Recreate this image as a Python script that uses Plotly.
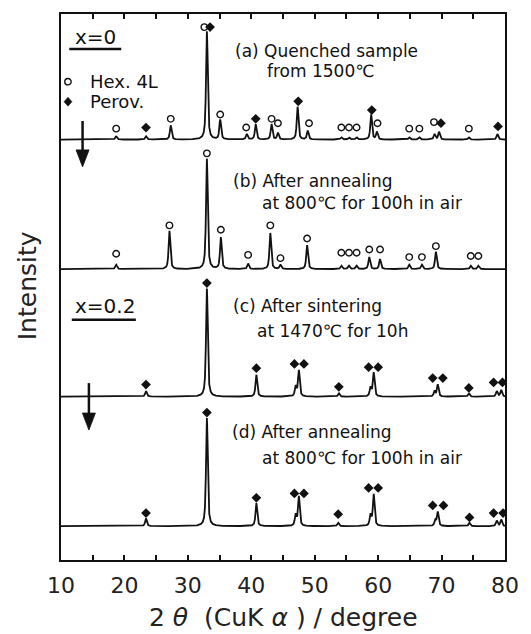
import numpy as np
import plotly.graph_objects as go

# ---- Diffraction peaks: 2theta (deg) and relative intensity ----
# (a) x=0, quenched from 1500 C
a_pos = [18.7, 23.4, 27.3, 33.0, 35.1, 39.3, 40.7, 43.2, 44.2, 47.3, 48.9,
         54.2, 55.4, 56.6, 58.9, 59.8, 64.9, 66.5, 68.9, 69.6, 74.3, 78.8]
a_int = [3, 3, 13, 99, 18, 5, 14, 14, 6, 30, 8,
         2, 2, 2, 23, 7, 2, 2, 5, 7, 2, 5]
# (b) x=0, annealed at 800 C
b_pos = [18.7, 27.1, 33.0, 35.2, 39.5, 43.0, 44.6, 48.8, 54.2, 55.4, 56.6,
         58.6, 60.3, 64.9, 66.9, 69.1, 74.6, 75.8]
b_int = [4, 35, 101, 29, 5, 33, 4, 22, 3, 3, 3,
         11, 9, 4, 4, 16, 3, 3]
# (c) x=0.2, sintered at 1470 C
c_pos = [23.4, 33.0, 40.8, 47.0, 47.5, 53.8, 58.8, 59.3, 68.9, 69.4, 74.3, 78.7, 79.4]
c_int = [5, 99, 20, 9, 24, 3, 8, 22, 5, 11, 3, 5, 6]
# (d) x=0.2, annealed at 800 C
d_pos = [23.4, 33.0, 40.8, 47.0, 47.5, 53.7, 58.8, 59.3, 69.0, 69.4, 74.4, 78.7, 79.4]
d_int = [7, 99, 21, 10, 27, 3, 10, 29, 5, 13, 3, 5, 6]

# ---- Phase index marks: 2theta and level above each baseline ----
hex_a_pos = [18.7, 27.3, 32.6, 35.1, 39.2, 43.2, 44.2, 49.1, 54.2, 55.4, 56.6,
             59.9, 64.9, 66.5, 68.8, 74.3]
hex_a_lvl = [10, 19, 103, 23, 11, 19, 15, 15, 11, 11, 11,
             15, 10, 10, 16, 10]
per_a_pos = [23.4, 33.5, 40.7, 47.4, 59.0, 69.9, 78.9]
per_a_lvl = [11, 103, 19, 35, 27, 15, 12]

hex_b_pos = [18.7, 27.1, 33.0, 35.2, 39.5, 43.0, 44.6, 48.8, 54.2, 55.4, 56.6,
             58.6, 60.3, 64.9, 66.9, 69.1, 74.6, 75.8]
hex_b_lvl = [14, 40, 106, 36, 13, 40, 10, 28, 15, 15, 15,
             18, 18, 11, 11, 21, 12, 12]

per_c_pos = [23.4, 33.0, 40.8, 46.8, 48.3, 53.8, 58.5, 60.0, 68.6, 70.2, 74.3, 78.2, 79.6]
per_c_lvl = [11, 104, 26, 30, 30, 9, 27, 27, 17, 17, 8, 13, 13]

per_d_pos = [23.4, 33.0, 40.8, 46.8, 48.3, 53.7, 58.5, 60.0, 68.6, 70.3, 74.4, 78.2, 79.7]
per_d_lvl = [12, 104, 26, 30, 30, 11, 35, 35, 19, 19, 8, 12, 12]

tick_vals = [10, 20, 30, 40, 50, 60, 70, 80]

# vertical stacking of the four patterns
OFFSETS = {"a": 385.0, "b": 266.4, "c": 149.6, "d": 31.0}
Y_TOP = 500.0

FONT = "DejaVu Sans"
BLACK = "#111111"
NB = "\u00a0"

tth = np.arange(10.0, 80.0001, 0.01)


def profile(pos, inten, fwhm=0.32, eta=0.7):
    """Pseudo-Voigt sum of the listed reflections."""
    y = np.zeros_like(tth)
    for p, h in zip(pos, inten):
        d = (tth - p) / (fwhm / 2.0)
        lor = 1.0 / (1.0 + d ** 2)
        gau = np.exp(-np.log(2.0) * d ** 2)
        y += h * (eta * lor + (1 - eta) * gau)
    return y


fig = go.Figure()

for key, pos, inten in [("a", a_pos, a_int), ("b", b_pos, b_int),
                        ("c", c_pos, c_int), ("d", d_pos, d_int)]:
    fig.add_trace(go.Scatter(
        x=tth, y=profile(pos, inten) + OFFSETS[key], mode="lines",
        line=dict(color=BLACK, width=1.8), showlegend=False, hoverinfo="skip"))

hex_marker = dict(symbol="circle-open", size=6.5, color=BLACK, line=dict(width=1.4, color=BLACK))
per_marker = dict(symbol="diamond", size=7.5, color=BLACK)

for name, pos, lvl, key, mk in [
        ("Hex. 4L", hex_a_pos, hex_a_lvl, "a", hex_marker),
        ("Perov.", per_a_pos, per_a_lvl, "a", per_marker),
        ("Hex. 4L", hex_b_pos, hex_b_lvl, "b", hex_marker),
        ("Perov.", per_c_pos, per_c_lvl, "c", per_marker),
        ("Perov.", per_d_pos, per_d_lvl, "d", per_marker)]:
    fig.add_trace(go.Scatter(
        x=pos, y=[v + OFFSETS[key] for v in lvl], mode="markers",
        marker=mk, name=name, showlegend=False, hoverinfo="skip"))

# ---- key for the phase symbols (drawn as shapes + text) ----
key_x, key_text_x = 11.1, 14.2
key_rows = [("Hex. 4L", 438.0, "circle"), ("Perov.", 419.7, "diamond")]
for label, ky, sym in key_rows:
    if sym == "circle":
        fig.add_shape(type="circle", xref="x", yref="y", xsizemode="pixel",
                      ysizemode="pixel", xanchor=key_x, yanchor=ky,
                      x0=-3.2, x1=3.2, y0=-3.2, y1=3.2,
                      line=dict(color=BLACK, width=1.4))
    else:
        fig.add_shape(type="path", xref="x", yref="y", xsizemode="pixel",
                      ysizemode="pixel", xanchor=key_x, yanchor=ky,
                      path="M0,4.5 L4,0 L0,-4.5 L-4,0 Z", fillcolor=BLACK,
                      line=dict(color=BLACK, width=0.5))
    fig.add_annotation(x=key_text_x, y=ky, xref="x", yref="y", text=label,
                       showarrow=False, xanchor="left", yanchor="middle",
                       font=dict(family=FONT, size=18, color=BLACK))

label_font = dict(family=FONT, size=17, color=BLACK)
texts = [
    ("(a) Quenched sample", 37.1, 466.2),
    ("from 1500\u2103", 42.1, 448.0),
    ("(b) After annealing", 36.8, 346.7),
    ("at 800\u2103 for 100h in air", 41.3, 326.6),
    ("(c) After sintering", 36.8, 232.7),
    ("at 1470\u2103 for 10h", 40.6, 209.9),
    ("(d) After annealing", 36.7, 116.8),
    ("at 800\u2103 for 100h in air", 41.3, 93.1),
]
for txt, x, y in texts:
    fig.add_annotation(x=x, y=y, xref="x", yref="y", text=txt, showarrow=False,
                       xanchor="left", yanchor="middle", font=label_font)

# composition headers with underline
for txt, x, y, ux0, ux1, uy in [("x=0", 11.9, 479.0, 11.3, 19.5, 468.0),
                                ("x=0.2", 11.9, 232.7, 11.7, 21.8, 219.9)]:
    fig.add_annotation(x=x, y=y, xref="x", yref="y", text=txt, showarrow=False,
                       xanchor="left", yanchor="middle",
                       font=dict(family=FONT, size=20, color=BLACK))
    fig.add_shape(type="line", xref="x", yref="y", x0=ux0, x1=ux1, y0=uy, y1=uy,
                  line=dict(color=BLACK, width=2.5))

# downward arrows marking the annealing step: shaft line + filled head
for x, y_head, y_tail in [(13.4, 360.0, 402.0), (14.4, 119.0, 162.0)]:
    fig.add_shape(type="line", xref="x", yref="y", x0=x, x1=x, y0=y_tail,
                  y1=y_head + 8, layer="above", line=dict(color=BLACK, width=2.5))
    fig.add_shape(type="path", xref="x", yref="y", xsizemode="pixel",
                  ysizemode="pixel", xanchor=x, yanchor=y_head, layer="above",
                  path="M-6.5,17 L6.5,17 L0,0 Z", fillcolor=BLACK,
                  line=dict(color=BLACK, width=0.8))

# axis titles
x_title = f"2{NB}<i>\u03b8</i>{NB}{NB}(CuK{NB}<i>\u03b1</i>{NB}){NB}/{NB}degree"
fig.add_annotation(x=0.5, y=-0.106, xref="paper", yref="paper", text=x_title,
                   showarrow=False, xanchor="center", yanchor="middle",
                   font=dict(family=FONT, size=25, color="#222222"))
fig.add_annotation(x=-0.0735, y=0.502, xref="paper", yref="paper", text="Intensity",
                   textangle=-90, showarrow=False, xanchor="center", yanchor="middle",
                   font=dict(family=FONT, size=25, color="#222222"))

fig.update_xaxes(range=[10, 80], tickvals=tick_vals, ticks="inside", ticklen=5,
                 tickwidth=1.5, tickcolor=BLACK, ticklabelstandoff=5,
                 minor=dict(dtick=5, tick0=10, ticks="inside", ticklen=5, tickwidth=1.5,
                            tickcolor=BLACK),
                 showline=True, linewidth=2, linecolor=BLACK, mirror="ticks",
                 showgrid=False, zeroline=False,
                 tickfont=dict(family=FONT, size=22, color="#222222"))
fig.update_yaxes(range=[0, Y_TOP], showticklabels=False, ticks="", showline=True,
                 linewidth=2, linecolor=BLACK, mirror=True, showgrid=False,
                 zeroline=False)

fig.update_layout(
    width=531, height=634,
    margin=dict(l=61, r=21, t=12, b=74),
    plot_bgcolor="white", paper_bgcolor="white",
    showlegend=False,
)

fig.write_html("out.html")
